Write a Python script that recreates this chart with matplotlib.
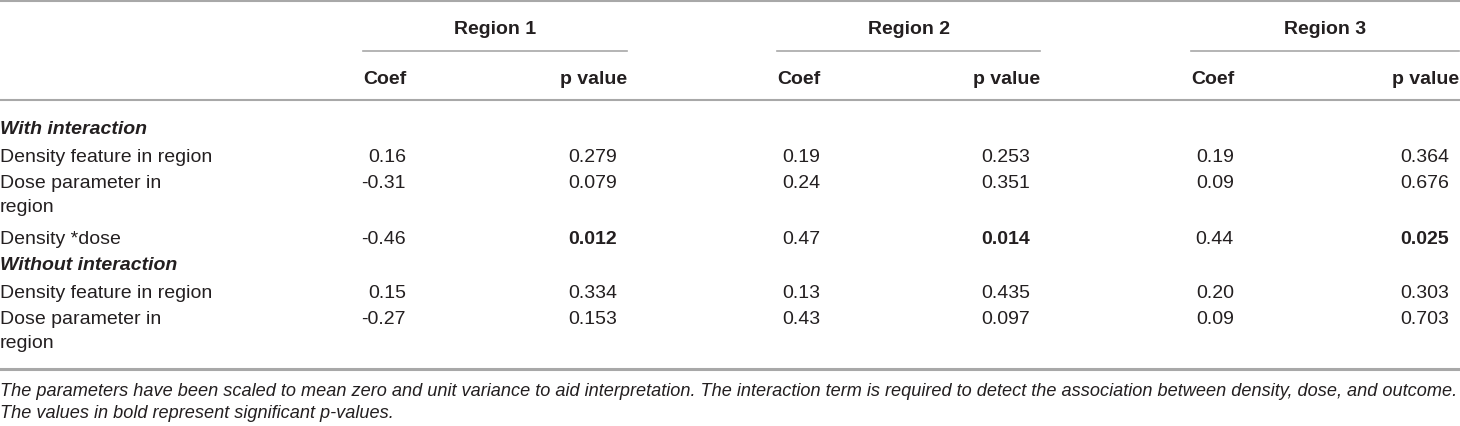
import matplotlib.pyplot as plt

regions = ["Region 1", "Region 2", "Region 3"]
row_labels = ["Density feature in region", "Dose parameter in\nregion", "Density *dose",
              "Density feature in region", "Dose parameter in\nregion"]
coef = [["0.16", "-0.31", "-0.46", "0.15", "-0.27"],
        ["0.19", "0.24", "0.47", "0.13", "0.43"],
        ["0.19", "0.09", "0.44", "0.20", "0.09"]]
pvals = [["0.279", "0.079", "0.012", "0.334", "0.153"],
         ["0.253", "0.351", "0.014", "0.435", "0.097"],
         ["0.364", "0.676", "0.025", "0.303", "0.703"]]
significant = ["0.012", "0.014", "0.025"]
footnote = ["The parameters have been scaled to mean zero and unit variance to aid interpretation. "
            "The interaction term is required to detect the association between density, dose, and outcome.",
            "The values in bold represent significant p-values."]

plt.rcParams['font.family'] = ['Liberation Sans', 'DejaVu Sans']
TXT = '#231f20'
LINE = '#a8a8a8'
FS = 14
VA = 'center_baseline'

fig = plt.figure(figsize=(14.6, 4.26), dpi=100)
ax = fig.add_axes([0, 0, 1, 1])
ax.set_xlim(0, 1460)
ax.set_ylim(426, 0)
ax.axis('off')

# column anchors (pixels)
coef_x = [363, 777, 1191]
pval_x = [627, 1040, 1459]
row_y = [155, 181, 237, 291, 317]

# horizontal rules
ax.plot([0, 1460], [1, 1], color=LINE, lw=1.5)
ax.plot([0, 1460], [100, 100], color=LINE, lw=1.5)
ax.plot([0, 1460], [369, 369], color=LINE, lw=2.2)

for i, reg in enumerate(regions):
    cx, px = coef_x[i], pval_x[i]
    ax.text((cx + px) / 2, 28, reg, ha='center', va=VA, fontsize=FS,
            fontweight='bold', color=TXT)
    ax.plot([cx, min(px, 1460)], [51, 51], color=LINE, lw=1.2)
    ax.text(cx, 77, "Coef", ha='left', va=VA, fontsize=FS, fontweight='bold', color=TXT)
    ax.text(px, 77, "p value", ha='right', va=VA, fontsize=FS, fontweight='bold', color=TXT)
    for j, y in enumerate(row_y):
        ax.text(cx + 43, y, coef[i][j], ha='right', va=VA, fontsize=FS, color=TXT)
        p = pvals[i][j]
        ax.text(px - 10, y, p, ha='right', va=VA, fontsize=FS, color=TXT,
                fontweight='bold' if p in significant else 'normal')

ax.text(0, 127, "With interaction", ha='left', va=VA, fontsize=FS,
        fontweight='bold', fontstyle='italic', color=TXT)
ax.text(0, 264, "Without interaction", ha='left', va=VA, fontsize=FS,
        fontweight='bold', fontstyle='italic', color=TXT)
for lab, y in zip(row_labels, row_y):
    for k, part in enumerate(lab.split('\n')):
        ax.text(0, y + 24 * k, part, ha='left', va=VA, fontsize=FS, color=TXT)

for k, line in enumerate(footnote):
    ax.text(0, 390 + 22 * k, line, ha='left', va=VA, fontsize=13.1,
            fontstyle='italic', color=TXT)

fig.savefig('out.png', dpi=100)
